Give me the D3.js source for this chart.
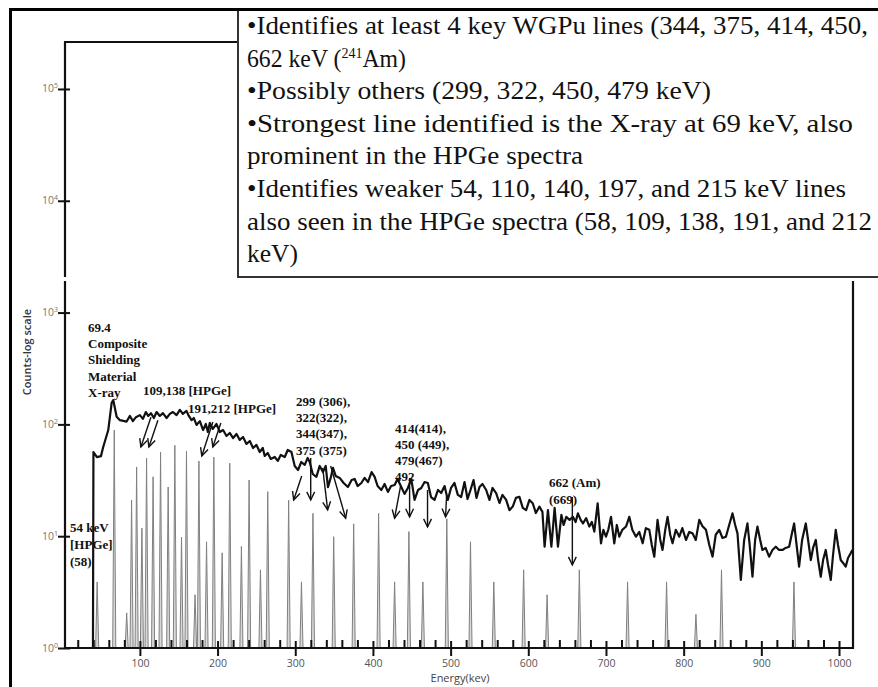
<!DOCTYPE html>
<html><head><meta charset="utf-8">
<script src="https://cdn.jsdelivr.net/npm/d3@7"></script>
<style>html,body{margin:0;padding:0;background:#fff;} svg{display:block;}</style>
</head><body>
<svg id="c" width="878" height="687"></svg>
<script>
// ---------------- DATA ----------------
// Measured spectrum (energy keV, counts)
const spectrum = [
[39.6,1],[40.2,56.6],[44.7,51],[49.9,52],[52.8,62.8],[59.3,89],[63.6,155],[65.7,165],[70.1,117],[74.3,109],
[82.9,106],[87.2,119],[91,107],[94.9,116],[100,121],[103.9,112],[107.7,129],[110.7,119],[114.2,126],[118,114],
[121.5,129],[125.7,119],[129.6,126],[134.4,114],[138.6,124],[142.5,129],[147.2,121],[151.5,135],[155.3,124],[160,132],
[163,119],[166.5,109],[169.5,114],[172.9,98.8],[177.2,107],[181.4,89],[184.9,101],[187.5,85.5],[190,103],[193.9,91],
[198.6,101],[202.9,85.5],[207.1,89],[211.5,78.8],[215.7,83.8],[220,75.5],[224.4,82],[228.6,72.6],[232.8,77.1],[237.2,66.8],
[241.5,71.1],[245.7,61.5],[250.1,65.5],[254.3,56.6],[258.2,61.5],[260.7,52.2],[264.6,55.5],[268.5,49.1],[273.6,51.1],[277.5,47.1],
[281.3,53.3],[286.5,51.1],[290.3,59],[295.1,56.6],[299.3,42.5],[303.6,39.1],[307.7,46.1],[312.2,43.4],[316,50.1],[318.6,46.1],
[322.5,36],[327.2,33.9],[331.5,42.5],[335.7,37.5],[339.2,42.5],[342.1,27.5],[345.6,33.2],[348.6,40.8],[352,34.6],[357.2,33.2],
[362.3,29.9],[367.8,27.5],[372.6,31.8],[376.5,32.5],[380.3,28.1],[385.1,29.9],[389.3,33.2],[393.6,30.5],[398.3,37.5],[402.2,33.9],
[406,28.1],[410.8,25.9],[415,29.3],[419.3,24.9],[423.4,28.1],[427.9,28.7],[431.7,32.5],[436.5,27.5],[440.7,23.9],[445,27],
[449.4,32.5],[453.6,21.1],[458.1,25.9],[462.2,27],[466.5,30.5],[470.7,29.9],[474.8,22.4],[479.3,21.1],[483.8,25.9],[487.9,24.3],
[492.2,28.1],[496.4,21.1],[500.5,27],[505,29.9],[509.3,23.4],[513.6,22.4],[517.9,30.5],[521.8,21.5],[525.6,25.9],[529.5,31.8],
[533.3,22],[537.2,27.5],[541,29.3],[545.8,25.9],[550,21.1],[553.9,27],[558.6,24.3],[562.9,19.8],[566.7,23.4],[571.5,21.1],
[575.7,17.1],[580,18.4],[584.1,22],[588.6,22.5],[592.9,17.9],[597.2,17.1],[601.5,21.1],[605.7,19.7],[609.8,16.1],[614.3,18.4],
[618.2,16.5],[621,8.05],[625.3,17.1],[629.7,8.05],[633.9,17.9],[638.2,8.05],[642.6,15.5],[645.5,12.6],[648.9,14.9],[653.2,14],
[657.4,14.9],[660.9,13.4],[663.9,16],[667.4,14],[670.4,13],[674.5,14.5],[678.6,12.2],[681.8,13.4],[685,11],[689.3,19.7],
[693.6,8.64],[696.6,11.4],[700,9.9],[703,11.4],[706.5,14.9],[710.7,8.64],[714,12.6],[717.2,9.9],[721,11.4],[725.8,12.2],
[730,14.9],[733.9,11.4],[738.6,9.9],[742.9,10.9],[747.2,8.64],[751.3,11.8],[755.8,11.4],[759,8.34],[762.2,6.56],[766.4,14],
[769.9,9.25],[772.8,7.53],[776.3,11.4],[779.3,14.9],[782.7,10.3],[785.7,8.64],[789.9,11.4],[794.4,9.9],[798.3,11.8],[803,9.25],
[807.2,10.9],[811.5,10.6],[815.6,9.25],[820.1,14],[824.3,12.3],[828.7,11.4],[833,8.34],[837.2,6.56],[841.3,10.3],[845.8,11.4],
[850,9.64],[854.4,9.9],[858.6,12.6],[862.9,16],[866.3,12.6],[869.3,10.6],[873.6,4.06],[877.9,9.25],[882.1,13],[885,8.34],
[888.6,4.34],[892,9.25],[895,12.2],[898.5,9.25],[901.4,7.53],[905.5,7.85],[910,6.56],[914.3,7.53],[918.6,8.05],[922.9,7.53],
[927.2,7.53],[931.2,7.85],[935.8,8.05],[939,10.3],[942.2,13],[945.4,8.34],[948.6,5.34],[952.5,9.25],[957.2,13],[960.2,9.25],
[963.7,6.12],[966.6,7.85],[970.1,9.25],[973.1,6.12],[976.5,4.34],[979.5,6.12],[982.9,7.53],[985.9,5.53],[989.4,4.06],[992.3,6.79],
[995.8,11.4],[998.7,8.34],[1002.2,6.12],[1005.2,5.76],[1008.6,5.34],[1011.6,6.38],[1015,7.03],[1017.1,7.53]
];

// Reference (HPGe) line energies and peak counts
const refEnergy = [45,67,83,89.3,95.8,102.6,108.6,117,126.6,136.4,145,153.6,160,171,176,185.8,195.2,205.9,215.7,230.7,
  240.6,255.2,264.6,291.5,308,322.8,349.5,375.2,407.3,427.9,446.3,464.3,495.1,525.6,555.6,594,624.2,665.7,727.8,778,815.8,848.7,942];
const refCounts = [3.9,89,2.06,21,41.6,11.8,50,34,56.6,27.5,65,9.8,57.8,3,47,8.9,51,7.1,45,8.1,
  31.8,5.0,25,21,3.9,16,9.9,12.9,16,3.9,11,3.9,14.3,8.9,3.9,5,3,5,3.9,3.9,2.0,5,3.9];

const xMajorTicks = [100,200,300,400,500,600,700,800,900,1000];
const xMinorTicks = [20,40,60,80,120,140,160,180,220,240,260,280,320,340,360,380,420,440,460,480,520,540,560,580,
  620,640,660,680,720,740,760,780,820,840,860,880,920,940,960,980];
const yTickExponents = [0,1,2,3,4,5];

// Arrows: [tailEnergy, tailCounts, headEnergy, headCounts]
const arrows = [
  [114.2,116,101.3,62.8],[123.2,109,111.6,62.8],
  [193.9,105,179.7,52.2],[204.2,103,193.9,62.8],
  [308.3,34.6,298,21.1],[319.9,50.1,319.9,21.1],[335.3,40.8,341.7,17.2],[345.6,42.5,364.9,14.5],
  [435.6,28.1,427.9,14.5],[447.2,33.2,447.2,14.9],[470.3,25.9,470.3,12.1],[494.8,22.9,493.5,14.9],
  [656.7,22.4,656.7,5.53]
];

const labelXray = ["69.4","Composite","Shielding","Material","X-ray"];
const label109 = ["109,138 [HPGe]"];
const label191 = ["191,212 [HPGe]"];
const label299 = ["299 (306),","322(322),","344(347),","375 (375)"];
const label414 = ["414(414),","450 (449),","479(467)","492"];
const label662 = ["662 (Am)","(669)"];
const label54 = ["54 keV","[HPGe]","(58)"];

const boxText = [
  "•Identifies at least 4 key WGPu lines (344, 375, 414, 450,",
  "662 keV (|241|Am)",
  "•Possibly others (299, 322, 450, 479 keV)",
  "•Strongest line identified is the X-ray at 69 keV, also",
  "prominent in the HPGe spectra",
  "•Identifies weaker 54, 110, 140, 197, and 215 keV lines",
  "also seen in the HPGe spectra (58, 109, 138, 191, and 212",
  "keV)"
];

// ---------------- LAYOUT ----------------
const SERIF = "Liberation Serif";
const SANS = "Open Sans";
const L = {left:65, right:853, top:42, bottom:648, gapTop:277, gapBot:281, boxX:238, boxBottom:277};
const svg = d3.select("#c");
svg.append("rect").attr("width",878).attr("height",687).attr("fill","#fff");

const x = d3.scaleLinear().domain([3.6,1018]).range([L.left,L.right]);
const y = d3.scaleLog().domain([1,Math.pow(10,5.42)]).range([L.bottom,L.top]);

// reference spikes
const ref = refEnergy.map((e,i)=>[e,refCounts[i]]);
svg.append("g").selectAll("path").data(ref).join("path")
  .attr("d",d=>`M${x(d[0]-2)},${y(1)}L${x(d[0])},${y(d[1])}L${x(d[0]+2)},${y(1)}`)
  .attr("fill","#d8d8d8").attr("stroke","#808080").attr("stroke-width",1);

// spectrum
svg.append("path").datum(spectrum)
  .attr("d",d3.line().x(d=>x(d[0])).y(d=>y(d[1])))
  .attr("fill","none").attr("stroke","#111").attr("stroke-width",2.2).attr("stroke-linejoin","round");

// axes ticks
const gx = svg.append("g").attr("transform",`translate(0,${L.bottom})`)
  .call(d3.axisBottom(x).tickValues(xMajorTicks).tickSize(8).tickFormat(d3.format("d")));
gx.select(".domain").remove();
gx.attr("font-family",SANS);
gx.selectAll(".tick line").attr("y1",-7).attr("y2",8).attr("stroke","#111").attr("stroke-width",2);
gx.selectAll(".tick text").attr("y",12).attr("font-size",10.5).attr("fill","#555");

const gxm = svg.append("g").attr("transform",`translate(0,${L.bottom})`)
  .call(d3.axisBottom(x).tickValues(xMinorTicks).tickSize(-8).tickFormat(""));
gxm.select(".domain").remove();
gxm.selectAll(".tick line").attr("stroke","#111").attr("stroke-width",2);

const gy = svg.append("g").attr("transform",`translate(${L.left},0)`)
  .call(d3.axisLeft(y).tickValues(yTickExponents.map(p=>Math.pow(10,p))).tickSize(7).tickFormat(""));
gy.select(".domain").remove();
gy.attr("font-family",SANS);
gy.selectAll(".tick line").attr("x1",5).attr("x2",-7).attr("stroke","#111").attr("stroke-width",2);
gy.selectAll(".tick").each(function(d,i){
  const t = d3.select(this).append("text").attr("x",-7).attr("y",3).attr("text-anchor","end")
    .attr("font-size",10.5).attr("fill","#777");
  t.append("tspan").text("10");
  t.append("tspan").attr("dy",-4).attr("font-size",7).text(String(yTickExponents[i]));
});

// frame lines
const fr = svg.append("g").attr("stroke","#111").attr("stroke-width",2.2).attr("fill","none");
fr.append("line").attr("x1",L.left).attr("x2",L.right+1).attr("y1",L.bottom).attr("y2",L.bottom);
fr.append("line").attr("x1",L.left).attr("x2",L.left).attr("y1",L.top).attr("y2",L.gapTop);
fr.append("line").attr("x1",L.left).attr("x2",L.left).attr("y1",L.gapBot).attr("y2",L.bottom+1);
fr.append("line").attr("x1",L.right).attr("x2",L.right).attr("y1",L.gapBot).attr("y2",L.bottom+1);
fr.append("line").attr("x1",L.left-1).attr("x2",L.boxX).attr("y1",L.top).attr("y2",L.top);

// axis titles
svg.append("text").attr("x",460).attr("y",682).attr("text-anchor","middle")
  .attr("font-family",SANS).attr("font-size",11).attr("fill","#444").text("Energy(kev)");
svg.append("text").attr("transform","translate(31,352) rotate(-90)").attr("text-anchor","middle")
  .attr("font-family",SANS).attr("font-size",11).attr("font-weight",600).attr("fill","#333").text("Counts-log scale");

// arrows
const ga = svg.append("g").attr("stroke","#111").attr("stroke-width",1.4).attr("fill","none");
arrows.forEach(a=>{
  const x1=x(a[0]), y1=y(a[1]), x2=x(a[2]), y2=y(a[3]);
  const ang = Math.atan2(y2-y1,x2-x1), hl=9, hw=0.45;
  ga.append("path").attr("d",`M${x1},${y1}L${x2},${y2}`);
  ga.append("path").attr("d",`M${x2-hl*Math.cos(ang-hw)},${y2-hl*Math.sin(ang-hw)}L${x2},${y2}L${x2-hl*Math.cos(ang+hw)},${y2-hl*Math.sin(ang+hw)}`);
});

// labels
function stack(lines,x0,y0,dy){
  const t = svg.append("text").attr("font-family",SERIF).attr("font-weight","bold")
    .attr("font-size",13).attr("fill","#111");
  lines.forEach((s,i)=>t.append("tspan").attr("x",x0).attr("y",y0+i*dy).text(s));
}
stack(labelXray,88,332,16.2);
stack(label109,143,395,16);
stack(label191,188,413,16);
stack(label299,296,406,16.2);
stack(label414,395,433,16);
stack(label662,549,487,16.5);
stack(label54,70,532,17);

// text box
svg.append("rect").attr("x",L.boxX).attr("y",9).attr("width",878-L.boxX+5).attr("height",L.boxBottom-9)
  .attr("fill","#fff").attr("stroke","#333").attr("stroke-width",2);
const boxWidths = [621,null,464,606,336,599,625,51];
boxText.forEach((s,i)=>{
  const by = 34+i*32.6;
  const parts = s.split("|");
  if(parts.length===1){
    svg.append("text").attr("x",247).attr("y",by)
      .attr("font-family",SERIF).attr("font-size",25.5).attr("fill","#111")
      .attr("textLength",boxWidths[i]).attr("lengthAdjust","spacingAndGlyphs").text(s);
  } else {
    // normal text, superscript, normal text as separate pieces placed side by side
    let cx = 247;
    parts.forEach((p,j)=>{
      const sup = j===1;
      const t = svg.append("text").attr("x",cx).attr("y",sup?by-9:by)
        .attr("font-family",SERIF).attr("font-size",sup?14:25.5).attr("fill","#111").text(p);
      cx += t.node().getComputedTextLength()*(sup?1:0.93);
      if(!sup) t.attr("textLength",t.node().getComputedTextLength()*0.93).attr("lengthAdjust","spacingAndGlyphs");
    });
  }
});

// outer frame
const of = svg.append("g").attr("stroke","#000").attr("stroke-width",3);
of.append("line").attr("x1",10).attr("x2",878).attr("y1",9.5).attr("y2",9.5);
of.append("line").attr("x1",10.5).attr("x2",10.5).attr("y1",8).attr("y2",687);
</script>
</body></html>
